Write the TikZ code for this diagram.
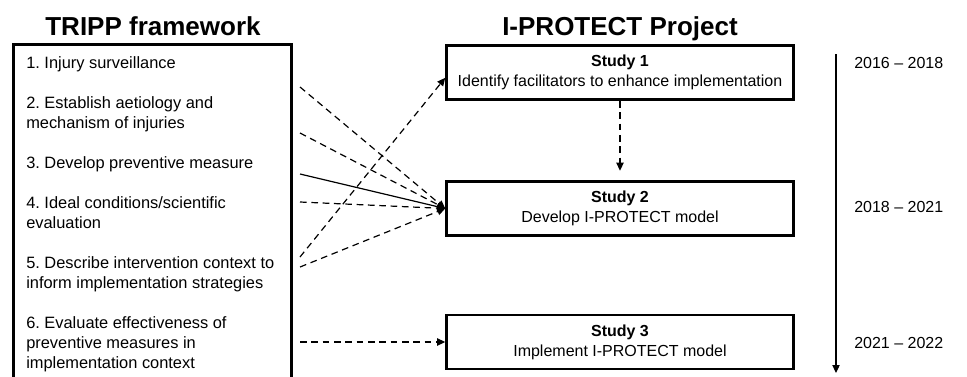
\documentclass[tikz,border=0pt]{standalone}
\usepackage{fontspec}
\setmainfont{Liberation Sans}
\usetikzlibrary{arrows.meta}

\begin{document}
\begin{tikzpicture}[x=0.75pt,y=-0.75pt,
  every node/.style={font=\fontsize{12}{15}\selectfont\frenchspacing,inner sep=0pt},
  title/.style={font=\fontsize{19.5}{23}\selectfont\bfseries,anchor=base},
  study/.style={draw,line width=2.2pt,minimum width=260pt,minimum height=40.5pt,align=center},
  item/.style={anchor=base west,align=left,font=\fontsize{12.3}{15}\selectfont\frenchspacing},
  lnk/.style={line width=0.9pt,dash pattern=on 5pt off 3.5pt,-{Triangle[length=6pt,width=5.5pt]}}]
\useasboundingbox (0,0) rectangle (967,376);
\node[title] (tripp) at (153,35) {TRIPP framework};
\node[title] (iprot) at (620,35) {I-PROTECT Project};
% left frame, runs off the bottom
\draw[line width=2.2pt] (13.5,44.5) rectangle (291.5,400);
% base of a multi-line node is its last line
\node[item] (i1) at (26,68) {1. Injury surveillance};
\node[item] (i2) at (26,128) {2. Establish aetiology and\\mechanism of injuries};
\node[item] (i3) at (26,168) {3. Develop preventive measure};
\node[item] (i4) at (26,228) {4. Ideal conditions/scientific\\evaluation};
\node[item] (i5) at (26,288) {5. Describe intervention context to\\inform implementation strategies};
\node[item] (i6) at (26,368) {6. Evaluate effectiveness of\\preventive measures in\\implementation context};
\node[study] (s1) at (620,72.5) {\textbf{Study 1}\\Identify facilitators to enhance implementation};
\node[study] (s2) at (620,208.5) {\textbf{Study 2}\\Develop I-PROTECT model};
\node[study] (s3) at (620,342) {\textbf{Study 3}\\Implement I-PROTECT model};
\coordinate (f1) at (300,87);
\coordinate (f2) at (300,133);
\coordinate (f3) at (300,174);
\coordinate (f4) at (300,202);
\coordinate (f5) at (300,257);
\coordinate (f6) at (300,267);
\coordinate (f7) at (300,342);
\foreach \p in {f1,f2,f4,f6} \draw[lnk] (\p) -- (s2.west);
\draw[line width=0.9pt,-{Triangle[length=6pt,width=5.5pt]}] (f3) -- (s2.west);
\draw[lnk] (f5) -- ([yshift=-4pt]s1.west);
\draw[lnk] (f7) -- (s3.west);
\draw[lnk,shorten >=7pt] (s1) -- (s2);
% time line
\coordinate (t0) at (836,54);
\coordinate (t1) at (836,373);
\draw[line width=0.8pt,-{Triangle[length=6pt,width=5.5pt]}] (t0) -- (t1);
\node[anchor=west] (d1) at (854,63) {2016 -- 2018};
\node[anchor=west] (d2) at (854,207) {2018 -- 2021};
\node[anchor=west] (d3) at (854,343) {2021 -- 2022};
\end{tikzpicture}
\end{document}
